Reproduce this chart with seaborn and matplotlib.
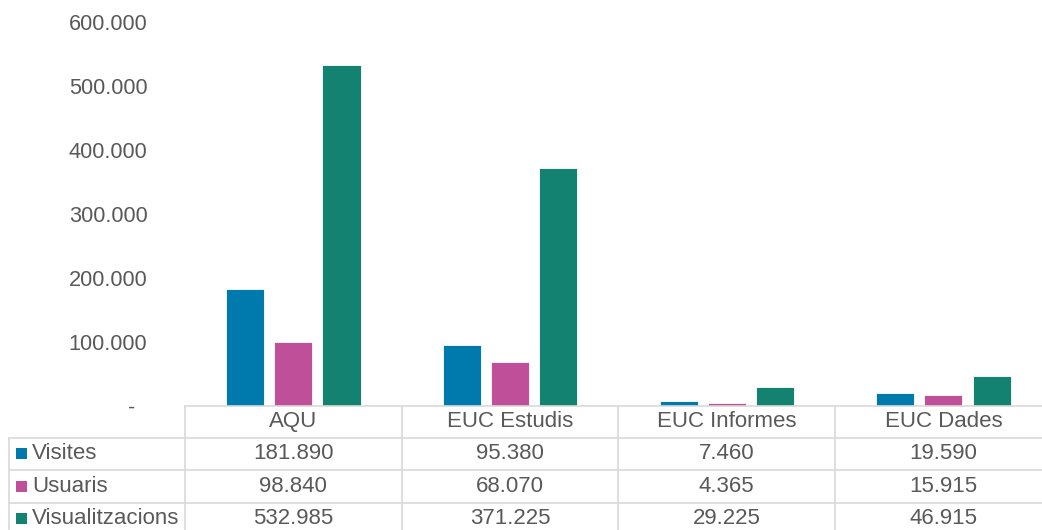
import pandas as pd
import matplotlib
matplotlib.use('Agg')
import matplotlib.pyplot as plt
import seaborn as sns
from matplotlib.lines import Line2D
from matplotlib.patches import Rectangle
from matplotlib.transforms import blended_transform_factory

# data
sites = ['AQU', 'EUC Estudis', 'EUC Informes', 'EUC Dades']
metrics = ['Visites', 'Usuaris', 'Visualitzacions']
visites = [181890, 95380, 7460, 19590]
usuaris = [98840, 68070, 4365, 15915]
visualitzacions = [532985, 371225, 29225, 46915]
y_ticks = [0, 100000, 200000, 300000, 400000, 500000, 600000]
y_labels = ['-  ', '100.000', '200.000', '300.000', '400.000', '500.000', '600.000']
colors = ['#0079AD', '#BF4F99', '#138271']


def fmt(v):
    return f'{v:,}'.replace(',', '.')


rows = []
for m, vals in zip(metrics, [visites, usuaris, visualitzacions]):
    for s, v in zip(sites, vals):
        rows.append({'site': s, 'metric': m, 'value': v})
df = pd.DataFrame(rows)

sns.set_style('white')
plt.rcParams['font.family'] = ['Liberation Sans', 'DejaVu Sans']
text_col = '#595959'
grid_col = '#D9D9D9'
fs = 16

W, H = 1042, 530
fig = plt.figure(figsize=(W / 100, H / 100), dpi=100)
col_w = 216.7
ax = fig.add_axes([185 / W, 1 - 405.5 / H, 4 * col_w / W, (405.5 - 22) / H])

sns.barplot(data=df, x='site', y='value', hue='metric', palette=colors,
            width=0.667, gap=0.21, legend=False, ax=ax,
            edgecolor='white', linewidth=0.6, saturation=1)

ax.set_xlim(-0.5, 3.5)
ax.set_ylim(0, 600000)
ax.set_yticks(y_ticks)
ax.set_yticklabels(y_labels)
ax.tick_params(axis='y', length=0, pad=27, labelsize=15.7, labelcolor=text_col)
ax.set_xticks([])
ax.set_xlabel('')
ax.set_ylabel('')
for sp in ax.spines.values():
    sp.set_visible(False)

# data table underneath
tr = blended_transform_factory(ax.transData, fig.transFigure)
ftr = fig.transFigure


def fy(px):
    return 1 - px / H


row_lines = [405.5, 437.5, 470, 502.5, 535]
lw = 1.2
# top line (acts as baseline)
fig.add_artist(Line2D([185 / W, 1], [fy(405.5)] * 2, color=grid_col, lw=lw, transform=ftr))
for y in row_lines[1:]:
    fig.add_artist(Line2D([9 / W, 1], [fy(y)] * 2, color=grid_col, lw=lw, transform=ftr))
fig.add_artist(Line2D([9 / W, 9 / W], [fy(437.5), fy(535)], color=grid_col, lw=lw, transform=ftr))
for xb in [-0.5, 0.5, 1.5, 2.5, 3.5]:
    fig.add_artist(Line2D([xb, xb], [fy(405.5), fy(535)], color=grid_col, lw=lw, transform=tr))

# header
for i, s in enumerate(sites):
    fig.text(i, fy(421.5), s, transform=tr, ha='center', va='center',
             fontsize=fs, color=text_col)

# body rows
for r, (m, vals) in enumerate(zip(metrics, [visites, usuaris, visualitzacions])):
    yc = (row_lines[r + 1] + row_lines[r + 2]) / 2
    fig.add_artist(Rectangle((16 / W, fy(yc + 5.5)), 11 / W, 11 / H,
                             transform=ftr, color=colors[r], lw=0))
    fig.text(32 / W, fy(yc), m, ha='left', va='center', fontsize=fs, color=text_col)
    for i, v in enumerate(vals):
        fig.text(i, fy(yc), fmt(v), transform=tr, ha='center', va='center',
                 fontsize=fs, color=text_col)

fig.savefig('out.png', dpi=100)
